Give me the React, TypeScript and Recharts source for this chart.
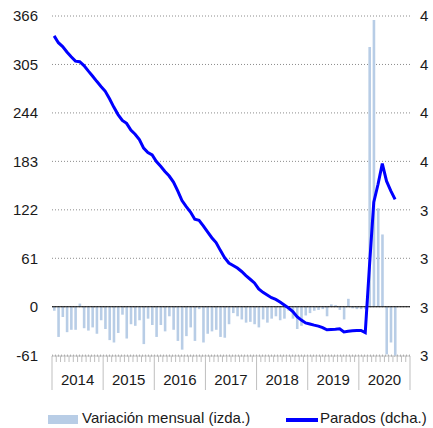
import React from "react";
import {
	ComposedChart,
	Bar,
	Line,
	XAxis,
	YAxis,
	CartesianGrid,
	ReferenceLine,
} from "recharts";

const YEARS = ["2014", "2015", "2016", "2017", "2018", "2019", "2020"];

// monthly change, thousands (left axis), Jan 2014 - Sep 2020
const VARIACION = [
	-5, -38, -13, -32, -29, -29, 4, -27, -30, -26, -34, -17,
	-28, -42, -45, -33, -10, -40, -22, -24, -17, -47, -15, -23,
	-38, -23, -31, -12, -29, -43, -54, -37, -26, -43, -3, -45,
	-34, -31, -29, -38, -39, -22, -8, -12, -16, -20, -19, -22,
	-26, -16, -20, -15, -12, -17, -15, -5, -15, -28, -24, -11,
	-8, -5, -4, -3, -12, 3, 2, -4, -16, 10, -2, -3,
	-3, -3, 327, 361, 124, 91, -60, -45, -62,
];

// unemployed, millions (right axis)
const PARADOS = [
	4.518, 4.49, 4.474, 4.452, 4.432, 4.414, 4.412, 4.396, 4.374, 4.353, 4.331, 4.31,
	4.29, 4.259, 4.225, 4.194, 4.17, 4.158, 4.13, 4.113, 4.091, 4.056, 4.038, 4.028,
	4.001, 3.981, 3.96, 3.941, 3.916, 3.88, 3.84, 3.815, 3.793, 3.763, 3.759, 3.736,
	3.711, 3.687, 3.667, 3.635, 3.605, 3.583, 3.573, 3.562, 3.548, 3.531, 3.516, 3.501,
	3.476, 3.462, 3.451, 3.44, 3.433, 3.422, 3.41, 3.398, 3.383, 3.362, 3.348, 3.336,
	3.332, 3.327, 3.323, 3.317, 3.308, 3.309, 3.31, 3.312, 3.299, 3.302, 3.304, 3.305,
	3.305, 3.296, 3.573, 3.833, 3.907, 3.992, 3.92, 3.88, 3.845,
];

const LEFT_TICKS = [-61, 0, 61, 122, 183, 244, 305, 366];
const RIGHT_TICKS = [3.2, 3.4, 3.6, 3.8, 4.0, 4.2, 4.4, 4.6];

const BAR_COLOR = "#b8cde6";
const LINE_COLOR = "#0000ff";
const FONT = "'Liberation Sans', Arial, sans-serif";

const data: any[] = [];
YEARS.forEach((y, yi) => {
	for (let m = 0; m < 12; m++) {
		const i = yi * 12 + m;
		data.push({
			mes: `${y}-${m + 1}`,
			variacion: i < VARIACION.length ? VARIACION[i] : null,
			parados: i < PARADOS.length ? PARADOS[i] : null,
		});
	}
});

const N = data.length;
const PLOT_W = 358;
const BW = PLOT_W / N;

const MonthTick = ({ x, y, payload, index }: any) => {
	const i = payload?.index ?? index;
	const left = x - BW / 2;
	const isYear = i % 12 === 0;
	return (
		<g>
			<line
				x1={left}
				x2={left}
				y1={y}
				y2={y + (isYear ? 34 : 6)}
				stroke="#bfbfbf"
				strokeWidth={1}
			/>
			{i === N - 1 && (
				<line
					x1={x + BW / 2}
					x2={x + BW / 2}
					y1={y}
					y2={y + 34}
					stroke="#bfbfbf"
					strokeWidth={1}
				/>
			)}
			{i % 12 === 6 && (
				<text
					x={left}
					y={y + 29}
					textAnchor="middle"
					fontSize={15}
					fontFamily={FONT}
					fill="#1a1a1a">
					{YEARS[Math.floor(i / 12)]}
				</text>
			)}
		</g>
	);
};

export default function App() {
	return (
		<div style={{ position: "absolute", left: 0, top: 0, width: 433, height: 428, background: "#fff" }}>
			<ComposedChart
				width={433}
				height={400}
				data={data}
				margin={{ top: 16, right: 0, bottom: 4, left: 0 }}
				barGap={0}
				barCategoryGap={0}>
				<CartesianGrid
					yAxisId="left"
					vertical={false}
					stroke="#8c8c8c"
					strokeDasharray="1 2"
				/>
				<XAxis
					dataKey="mes"
					interval={0}
					height={40}
					tickLine={false}
					tickSize={0}
					tickMargin={0}
					axisLine={{ stroke: "#bfbfbf" }}
					tick={<MonthTick />}
				/>
				<YAxis
					yAxisId="left"
					width={52}
					domain={[-61, 366]}
					ticks={LEFT_TICKS}
					tickLine={false}
					axisLine={false}
					tickSize={0}
					tickMargin={14}
					tick={{ fontSize: 15, fill: "#1a1a1a", fontFamily: FONT }}
				/>
				<YAxis
					yAxisId="right"
					orientation="right"
					width={23}
					domain={[3.2, 4.6]}
					ticks={RIGHT_TICKS}
					tickLine={false}
					axisLine={false}
					tickSize={0}
					tickMargin={10}
					tickFormatter={(v: number) => String(Math.trunc(v + 1e-9))}
					tick={{ fontSize: 15, fill: "#1a1a1a", fontFamily: FONT, textAnchor: "start" }}
				/>
				<Bar
					yAxisId="left"
					dataKey="variacion"
					fill={BAR_COLOR}
					barSize={2.6}
					isAnimationActive={false}
				/>
				<ReferenceLine yAxisId="left" y={0} stroke="#000" strokeWidth={1.2} />
				<Line
					yAxisId="right"
					dataKey="parados"
					stroke={LINE_COLOR}
					strokeWidth={3}
					dot={false}
					activeDot={false}
					connectNulls={false}
					isAnimationActive={false}
				/>
			</ComposedChart>
			<div
				style={{
					position: "absolute",
					top: 408,
					left: 0,
					width: 433,
					height: 20,
					fontFamily: FONT,
					fontSize: 15,
					color: "#1a1a1a",
					whiteSpace: "nowrap",
				}}>
				<span style={{ position: "absolute", left: 48, top: 7, width: 30, height: 9, background: BAR_COLOR }} />
				<span style={{ position: "absolute", left: 82, top: 1, lineHeight: "18px" }}>Variación mensual (izda.)</span>
				<span style={{ position: "absolute", left: 286, top: 10, width: 32, height: 3.5, background: LINE_COLOR }} />
				<span style={{ position: "absolute", left: 320, top: 1, lineHeight: "18px" }}>Parados (dcha.)</span>
			</div>
		</div>
	);
}
